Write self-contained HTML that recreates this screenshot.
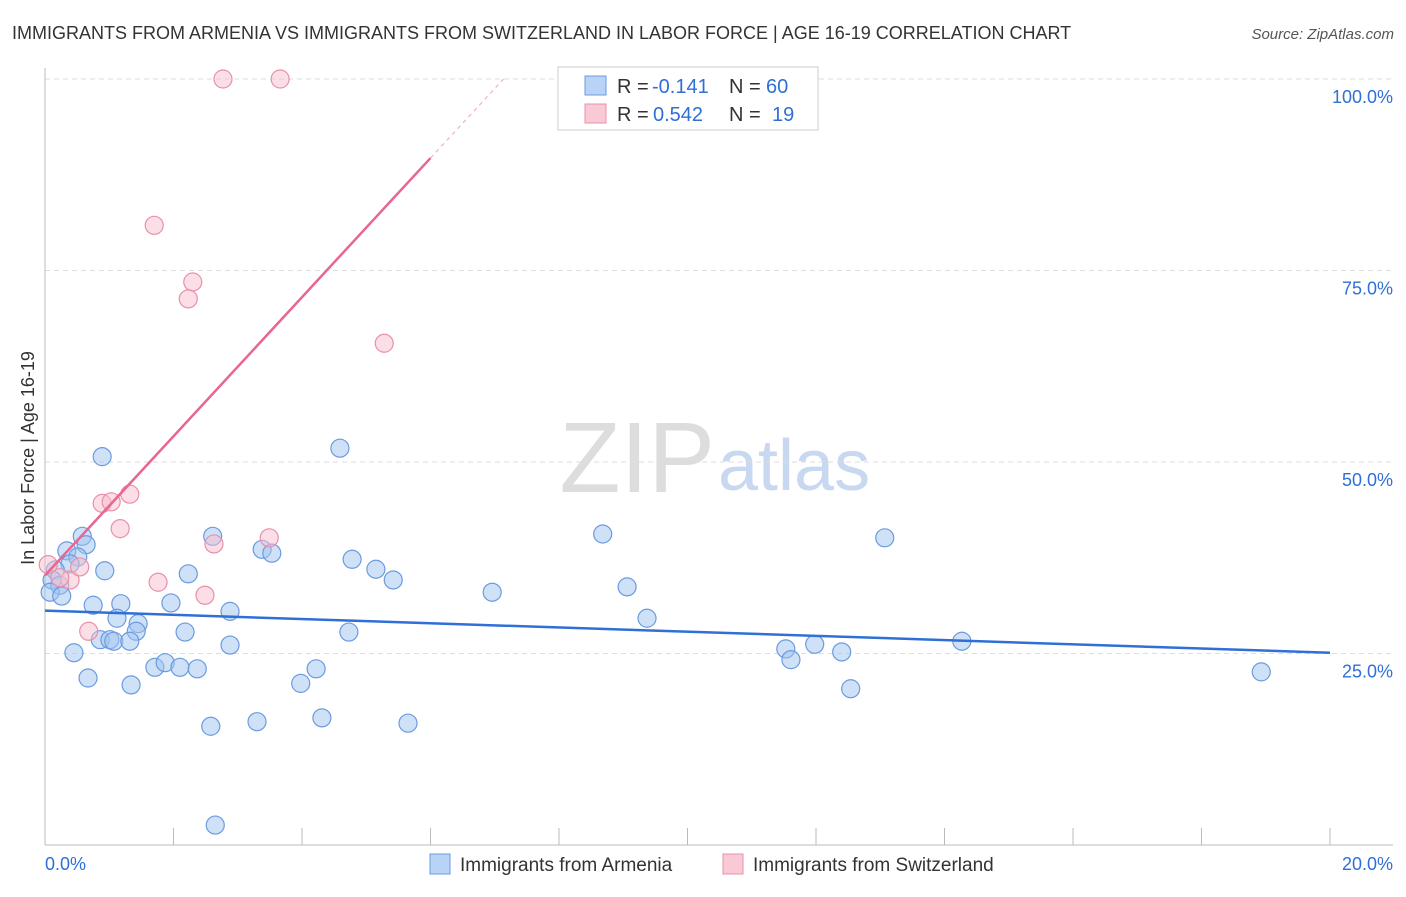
<!DOCTYPE html>
<html><head><meta charset="utf-8"><style>
body{margin:0;background:#fff;font-family:"Liberation Sans",sans-serif;}
svg text{font-family:"Liberation Sans",sans-serif;}
</style></head><body>
<svg id="chart" width="1406" height="892">
<text x="12" y="39" font-size="18" fill="#333">IMMIGRANTS FROM ARMENIA VS IMMIGRANTS FROM SWITZERLAND IN LABOR FORCE | AGE 16-19 CORRELATION CHART</text>
<text x="1394" y="39" font-size="15" fill="#555" text-anchor="end" font-style="italic">Source: ZipAtlas.com</text>
<text x="34" y="458" font-size="18" fill="#333" text-anchor="middle" transform="rotate(-90 34 458)">In Labor Force | Age 16-19</text>
<text x="715" y="492" font-size="100" fill="#ddd" text-anchor="end" font-family="Liberation Serif">ZIP</text>
<text x="718" y="490" font-size="72" fill="#c8d8f0">atlas</text>
<g id="grid"></g><g id="axes"></g><g id="pts"></g><g id="trend"></g>
<g>
<rect x="558" y="67" width="260" height="63" fill="#fff" stroke="#ccc"/>
<rect x="585" y="76" width="21" height="19" fill="#b8d3f5" stroke="#6a9be0"/>
<rect x="585" y="104" width="21" height="19" fill="#f9c9d6" stroke="#e890aa"/>
<text x="617" y="93" font-size="20" fill="#333">R =</text>
<text x="652" y="93" font-size="20" fill="#2f6fd6">-0.141</text>
<text x="729" y="93" font-size="20" fill="#333">N =</text>
<text x="766" y="93" font-size="20" fill="#2f6fd6">60</text>
<text x="617" y="121" font-size="20" fill="#333">R =</text>
<text x="653" y="121" font-size="20" fill="#2f6fd6">0.542</text>
<text x="729" y="121" font-size="20" fill="#333">N =</text>
<text x="772" y="121" font-size="20" fill="#2f6fd6">19</text>
</g>
<g>
<rect x="430" y="854" width="20" height="20" fill="#b8d3f5" stroke="#6a9be0"/>
<text x="460" y="871" font-size="19" fill="#333">Immigrants from Armenia</text>
<rect x="723" y="854" width="20" height="20" fill="#f9c9d6" stroke="#e890aa"/>
<text x="753" y="871" font-size="19" fill="#333">Immigrants from Switzerland</text>
</g>
</svg>
<script>
const blueX=[0.89,4.59,8.68,13.07,0.58,0.34,0.64,0.51,2.61,3.38,3.53,4.78,5.15,5.42,0.93,0.39,0.16,0.11,0.23,0.08,0.26,2.23,9.06,6.96,0.75,1.18,1.96,2.88,9.37,1.12,1.45,1.42,2.18,4.73,0.86,1.01,1.07,1.32,2.88,11.53,11.98,12.40,14.27,0.45,11.61,0.67,1.71,1.87,2.10,2.37,4.22,3.98,1.34,12.54,18.93,2.58,3.30,4.31,5.65,2.65];
const blueY=[50.7,51.8,40.6,40.1,40.3,38.4,39.2,37.6,40.3,38.6,38.1,37.3,36.0,34.6,35.8,36.7,35.9,34.6,33.9,33.0,32.5,35.4,33.7,33.0,31.3,31.5,31.6,30.5,29.6,29.6,28.9,27.9,27.8,27.8,26.8,26.8,26.6,26.6,26.1,25.6,26.2,25.2,26.6,25.1,24.2,21.8,23.2,23.8,23.2,23.0,23.0,21.1,20.9,20.4,22.6,15.5,16.1,16.6,15.9,2.6];
const pinkX=[2.77,3.66,1.70,2.30,2.23,5.28,1.32,0.89,1.03,1.17,2.63,3.49,1.76,2.49,0.68,0.05,0.39,0.54,0.23];
const pinkY=[100,100,80.9,73.5,71.3,65.5,45.8,44.6,44.8,41.3,39.3,40.1,34.3,32.6,27.9,36.6,34.6,36.3,34.9];
const blueTrend=[30.6,25.1];
const pinkTrend=[35.2,9.08];
const yTicks=[25,50,75,100];
const NS='http://www.w3.org/2000/svg';
const sx=v=>45+v*1285/20, sy=v=>845-v*7.66;
function mk(t,a,p){const e=document.createElementNS(NS,t);for(const k in a)e.setAttribute(k,a[k]);p.appendChild(e);return e;}
const grid=document.getElementById('grid'),axes=document.getElementById('axes'),pts=document.getElementById('pts'),tr=document.getElementById('trend');
yTicks.forEach(v=>{
const l=mk('line',{x1:45,x2:1393,y1:sy(v),y2:sy(v),stroke:'#ddd','stroke-dasharray':'5,4'},grid);


const t=mk('text',{x:1393,y:sy(v)+24,'font-size':18,fill:'#2f6fd6','text-anchor':'end'},grid);t.textContent=v.toFixed(1)+'%';


});
mk('line',{x1:45,x2:45,y1:68,y2:845,stroke:'#bbb'},axes);
mk('line',{x1:45,x2:1393,y1:845,y2:845,stroke:'#bbb'},axes);
for(let k=0;k<=10;k++){const x=sx(k*2);const l=mk('line',{x1:x,x2:x,y1:828,y2:845,stroke:'#bbb'},axes);

}
const t0=mk('text',{x:45,y:870,'font-size':18,fill:'#2f6fd6'},axes);t0.textContent='0.0%';


const t1=mk('text',{x:1393,y:870,'font-size':18,fill:'#2f6fd6','text-anchor':'end'},axes);t1.textContent='20.0%';


blueX.forEach((x,i)=>{const c=mk('circle',{cx:sx(x),cy:sy(blueY[i]),r:9,fill:'rgba(160,196,240,0.5)',stroke:'#6a9be0','stroke-width':1.2},pts);

});
pinkX.forEach((x,i)=>{const c=mk('circle',{cx:sx(x),cy:sy(pinkY[i]),r:9,fill:'rgba(248,190,206,0.5)',stroke:'#e890aa','stroke-width':1.2},pts);

});
const bl=mk('line',{x1:sx(0),y1:sy(blueTrend[0]),x2:sx(20),y2:sy(blueTrend[1]),stroke:'#2f6fd6','stroke-width':2.5},tr);


const xs=6.0,xe=(100-pinkTrend[0])/pinkTrend[1];
const pl=mk('line',{x1:sx(0),y1:sy(pinkTrend[0]),x2:sx(xs),y2:sy(pinkTrend[0]+pinkTrend[1]*xs),stroke:'#e8668f','stroke-width':2.5},tr);


const pd=mk('line',{x1:sx(xs),y1:sy(pinkTrend[0]+pinkTrend[1]*xs),x2:sx(xe),y2:sy(100),stroke:'#f0b0c4','stroke-width':1.2,'stroke-dasharray':'4,4'},tr);


</script>
</body></html>
